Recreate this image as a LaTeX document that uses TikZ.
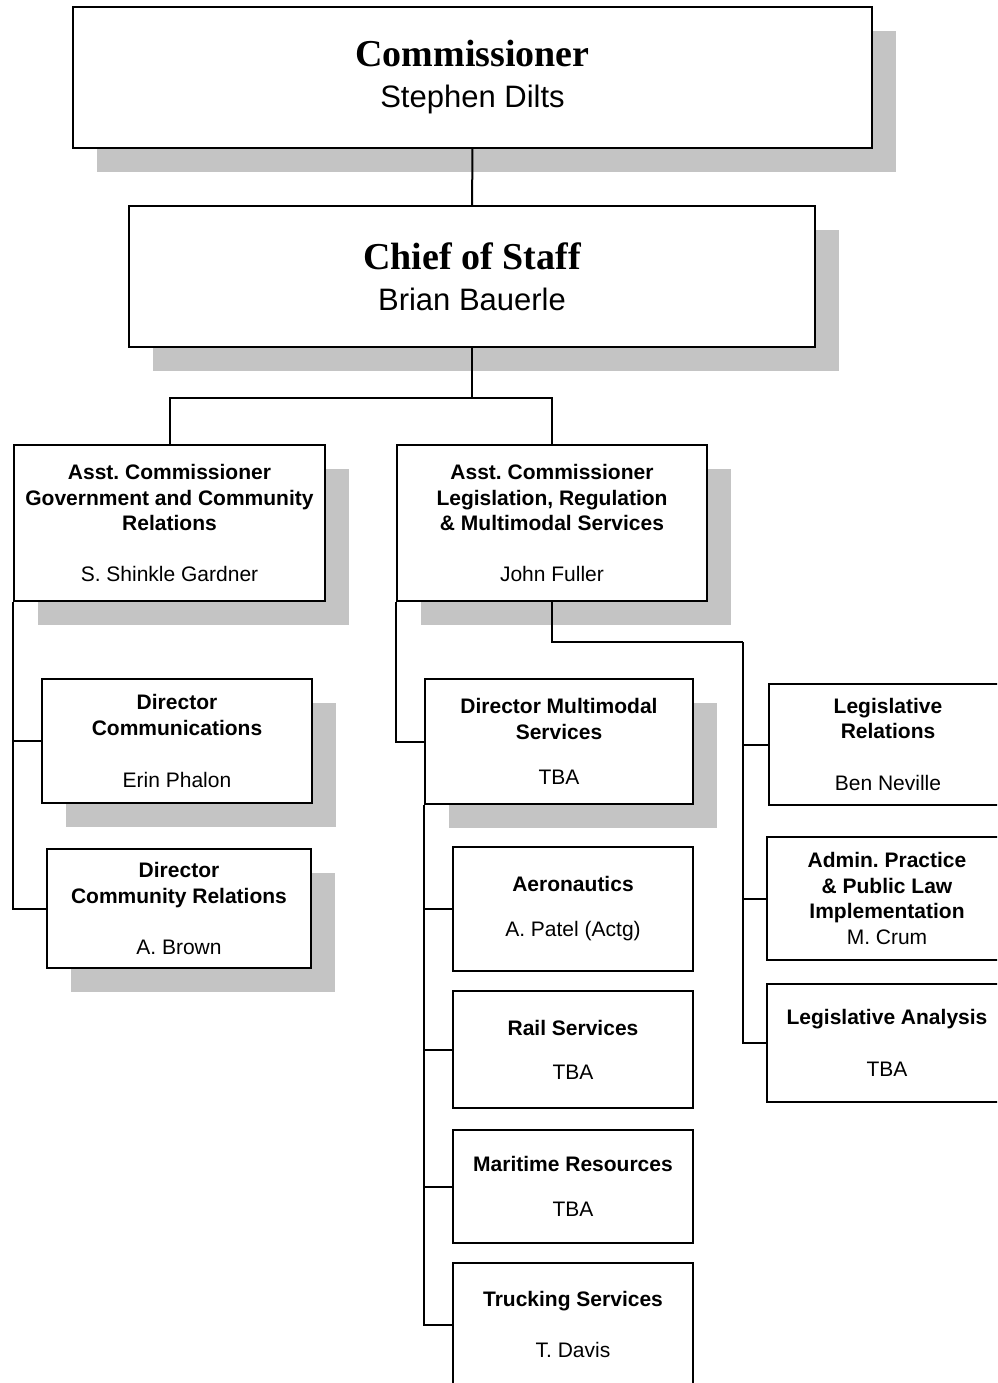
\documentclass[tikz,border=0pt]{standalone}
\usepackage{fontspec}
\setmainfont{Liberation Sans}
\newfontfamily\titleserif{Liberation Serif}
\usepackage{tikz}
\usetikzlibrary{positioning,shadows}
\definecolor{shadowgrey}{RGB}{196,196,196}
\tikzset{>=latex}
\frenchspacing

\begin{document}
\begin{tikzpicture}[x=1pt, y=-1pt]
      \tikzstyle{orgbox} = [draw=black, fill=white, line width=1.5pt, rectangle, inner sep=0pt, align=center, font=\fontsize{21}{25.5}\selectfont]
      \tikzstyle{shadowbox} = [orgbox, drop shadow={shadow xshift=24pt, shadow yshift=-24pt, opacity=1, fill=shadowgrey}]
      \tikzstyle{headbox} = [shadowbox, minimum height=141pt, font=\fontsize{31}{41}\selectfont]
      \tikzstyle{link} = [line width=2pt]

      \useasboundingbox (0,0) rectangle (997,1383);
      \clip (0,0) rectangle (997,1383);

      % top of the chart
      \node[headbox, minimum width=799pt] (comm) at (472.5,77.5)
        {{\titleserif\bfseries\fontsize{38}{41}\selectfont Commissioner}\\Stephen Dilts};
      \node[headbox, minimum width=686pt] (cos) at (472,276.5)
        {{\titleserif\bfseries\fontsize{38}{41}\selectfont Chief of Staff}\\Brian Bauerle};

      % assistant commissioners
      \node[shadowbox, minimum width=311pt, minimum height=156pt] (gcr) at (169.5,523)
        {\textbf{Asst. Commissioner}\\\textbf{Government and Community}\\\textbf{Relations}\\[25.5pt]S. Shinkle Gardner};
      \node[shadowbox, minimum width=310pt, minimum height=156pt] (lrm) at (552,523)
        {\textbf{Asst. Commissioner}\\\textbf{Legislation, Regulation}\\\textbf{\& Multimodal Services}\\[25.5pt]John Fuller};

      % directors
      \node[shadowbox, minimum width=270pt, minimum height=124pt] (dcomm) at (177,741)
        {\textbf{Director}\\\textbf{Communications}\\[26.5pt]Erin Phalon};
      \node[shadowbox, minimum width=264pt, minimum height=119pt] (dcr) at (179,908.5)
        {\textbf{Director}\\\textbf{Community Relations}\\[25.5pt]A. Brown};
      \node[shadowbox, minimum width=268pt, minimum height=125pt] (dms) at (559,741.5)
        {\textbf{Director Multimodal}\\\textbf{Services}\\[19.5pt]TBA};

      % multimodal units
      \node[orgbox, minimum width=240pt, minimum height=124pt] (aero) at (573,909)
        {\textbf{Aeronautics}\\[19.5pt]A. Patel (Actg)};
      \node[orgbox, minimum width=240pt, minimum height=117pt] (rail) at (573,1049.5)
        {\textbf{Rail Services}\\[18.5pt]TBA};
      \node[orgbox, minimum width=240pt, minimum height=113pt] (mari) at (573,1186.5)
        {\textbf{Maritime Resources}\\[19.5pt]TBA};
      \node[orgbox, minimum width=240pt, minimum height=123pt] (truck) at (573,1324.5)
        {\textbf{Trucking Services}\\[25.5pt]T. Davis};

      % legislation units
      \node[orgbox, minimum width=238pt, minimum height=121pt] (lrel) at (888,744.5)
        {\textbf{Legislative}\\\textbf{Relations}\\[26.5pt]Ben Neville};
      \node[orgbox, minimum width=240pt, minimum height=123pt] (admin) at (887,898.5)
        {\textbf{Admin. Practice}\\\textbf{\& Public Law}\\\textbf{Implementation}\\M. Crum};
      \node[orgbox, minimum width=240pt, minimum height=118pt] (lana) at (887,1043)
        {\textbf{Legislative Analysis}\\[26.5pt]TBA};

      \coordinate (split) at (472,398);
      \coordinate (rbus) at (743,642);

      \draw[link] (comm) -- (cos);
      \draw[link] (cos) -- (split);
      \draw[link] (split) -| (gcr.north);
      \draw[link] (split) -| (lrm.north);

      \draw[link] (gcr.south west) |- (dcomm.west);
      \draw[link] (gcr.south west) |- (dcr.west);

      \draw[link] (lrm.south west) |- (dms.west);
      \draw[link] (dms.south west) |- (aero.west);
      \draw[link] (dms.south west) |- (rail.west);
      \draw[link] (dms.south west) |- (mari.west);
      \draw[link] (dms.south west) |- (truck.west);

      \draw[link] (lrm.south) |- (rbus);
      \draw[link] (rbus) |- (lrel.west);
      \draw[link] (rbus) |- (admin.west);
      \draw[link] (rbus) |- (lana.west);
\end{tikzpicture}
\end{document}
